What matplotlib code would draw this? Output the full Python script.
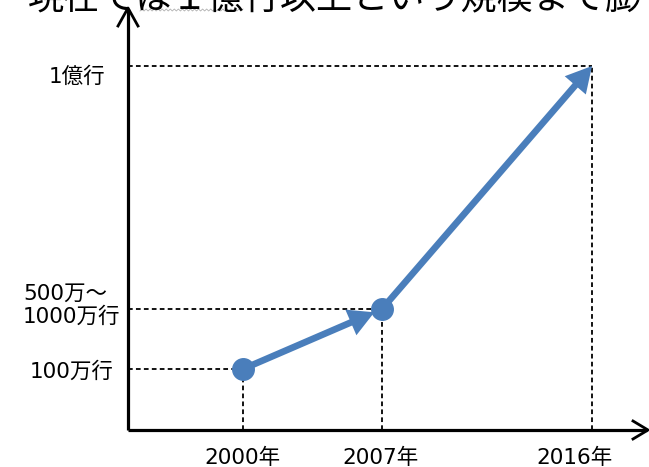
import matplotlib
matplotlib.use("Agg")
import matplotlib.pyplot as plt
import numpy as np
from matplotlib.patches import FancyArrowPatch

# ── data ──────────────────────────────────────────────────────────────────
years       = ["2000年", "2007年", "2016年"]
size_labels = ["100万行", "500万～\n1000万行", "1億行"]
# schematic positions along each axis (not to scale)
year_pos    = [115, 254, 464]
size_pos    = [61, 121, 364]
headline    = "現在では１億行以上という規模まで膨"

# ── style ─────────────────────────────────────────────────────────────────
BLUE   = "#4a7ebb"
LABEL_FONT = ["DejaVu Sans", "Noto Sans CJK JP"]
plt.rcParams["font.family"] = ["Noto Sans CJK JP", "DejaVu Sans"]

fig = plt.figure(figsize=(6.49, 4.67), dpi=100)
ax = fig.add_axes([0, 0, 1, 1])
ax.set_xlim(-128, 521)
ax.set_ylim(-37, 430)
ax.axis("off")

# axes with open arrowheads
ax.plot([0, 0], [0, 421], color="black", lw=2.3, solid_capstyle="butt")
ax.plot([-10, 0, 10], [404, 422, 404], color="black", lw=2.0)
ax.plot([0, 519], [0, 0], color="black", lw=2.3, solid_capstyle="butt")
ax.plot([505, 520, 505], [9, 0, -9], color="black", lw=2.0)

# guide lines from each point to both axes
for xp, yp in zip(year_pos, size_pos):
    ax.plot([0, xp], [yp, yp], color="black", lw=1.3, ls=(0, (2.6, 1.8)))
    ax.plot([xp, xp], [0, yp], color="black", lw=1.3, ls=(0, (2.6, 1.8)))

# growth arrows
for i in range(len(year_pos) - 1):
    p0 = (year_pos[i], size_pos[i])
    p1 = (year_pos[i + 1], size_pos[i + 1])
    shrink = 6 if i < len(year_pos) - 2 else 0
    arr = FancyArrowPatch(p0, p1, arrowstyle="-|>,head_length=0.55,head_width=0.3",
                          mutation_scale=20, color=BLUE, lw=4.8,
                          shrinkA=0, shrinkB=shrink, joinstyle="miter",
                          capstyle="butt", zorder=3)
    ax.add_patch(arr)

ax.plot(year_pos[:-1], size_pos[:-1], "o", color=BLUE, ms=15.5, zorder=4)

# axis labels
for xp, lab in zip(year_pos, years):
    dx = -17 if lab == years[-1] else -1
    ax.text(xp + dx, -28, lab, ha="center", va="center", fontsize=15.5,
            family=LABEL_FONT)

ax.text(-56, size_pos[0] - 3, size_labels[0], ha="center", va="center",
        fontsize=15.5, family=LABEL_FONT)
ax.text(-105, size_pos[1] + 4, size_labels[1], ha="left", va="center",
        fontsize=15.5, family=LABEL_FONT, linespacing=1.15)
ax.text(-51, size_pos[2] - 11, size_labels[2], ha="center", va="center",
        fontsize=15.5, family=LABEL_FONT)

# headline running off the top of the slide
ax.text(-100, 422, headline, ha="left", va="baseline", fontsize=26,
        color="black", clip_on=False)
wx = np.linspace(12, 115, 52)
wy = 420 + np.where(np.arange(len(wx)) % 2 == 0, -1.0, 1.0)
ax.plot(wx, wy, color="#b0b0b0", lw=0.6)

fig.savefig("out.png", dpi=100)
